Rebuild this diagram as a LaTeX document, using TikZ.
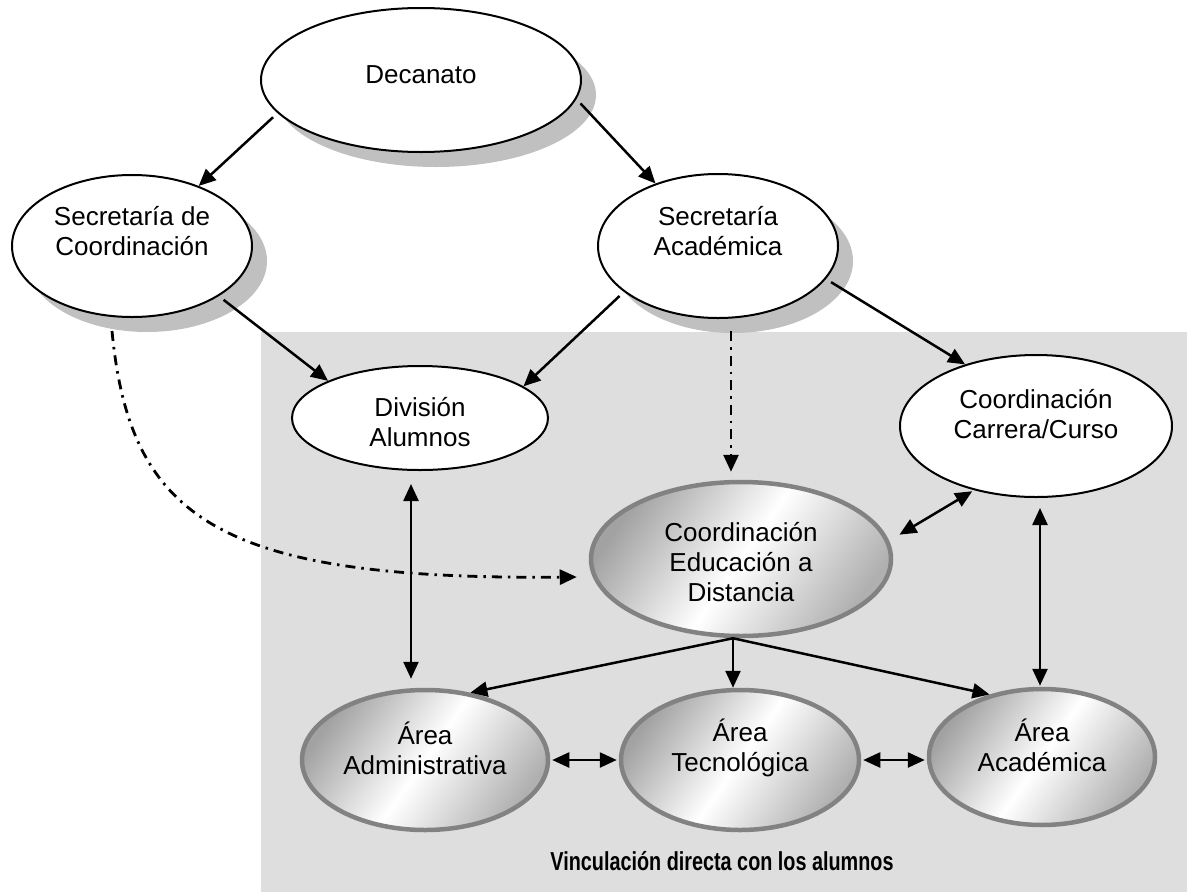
\documentclass[tikz,border=0pt]{standalone}
\usepackage{fontspec}
\setmainfont{Liberation Sans}
\usetikzlibrary{arrows.meta,shapes.geometric,shadows}
\definecolor{bg}{HTML}{DEDEDE}
\definecolor{shadowc}{HTML}{C0C0C0}
\definecolor{rimc}{HTML}{828282}
\definecolor{shdc}{HTML}{A2A2A2}
\begin{document}
\begin{tikzpicture}[x=1pt,y=-1pt, font=\fontsize{26}{30}\selectfont,
  base/.style={ellipse, inner sep=0pt},
  plainell/.style={base, draw=black, line width=2pt, fill=white},
  shadowell/.style={plainell, drop shadow={shadow xshift=15pt, shadow yshift=-15pt, fill=shadowc, opacity=1}},
  shadeell/.style={base, draw=rimc, line width=4.5pt, top color=shdc, bottom color=shdc!85, middle color=white, shading angle=55},
  txt/.style={align=center, inner sep=0pt},
  arr/.style={line width=2.5pt, -{Triangle[length=17pt,width=15pt]}},
  darr/.style={line width=2.5pt, {Triangle[length=17pt,width=15pt]}-{Triangle[length=17pt,width=15pt]}},
  dd/.style={arr, line width=2.8pt, dash pattern=on 10pt off 6pt on 2.5pt off 6pt}]
\useasboundingbox (0,0) rectangle (1187,892);
\fill[bg] (261,332) rectangle (1187,892);

% upper nodes with shadow
\node[shadowell, minimum width=320pt, minimum height=144pt] (dec) at (421,80) {};
\node[txt] (decT) at (421,75) {Decanato};
\node[shadowell, minimum width=240pt, minimum height=142pt] (sc) at (132,246) {};
\node[txt] (scT) at (132,231) {Secretaría de\\Coordinación};
\node[shadowell, minimum width=240pt, minimum height=144pt] (sa) at (718,246) {};
\node[txt] (saT) at (718,231) {Secretaría\\Académica};

% plain nodes
\node[plainell, minimum width=256pt, minimum height=104pt] (div) at (420,418) {};
\node[txt] (divT) at (420,422) {División\\Alumnos};
\node[plainell, minimum width=272pt, minimum height=142pt] (cc) at (1036,426) {};
\node[txt] (ccT) at (1036,414) {Coordinación\\Carrera/Curso};

% shaded nodes
\node[shadeell, minimum width=300pt, minimum height=154pt] (ced) at (741,559) {};
\node[txt] (cedT) at (741,562) {Coordinación\\Educación a\\Distancia};
\node[shadeell, minimum width=246pt, minimum height=140pt] (adm) at (425,760) {};
\node[txt] (admT) at (425,748) {Área\\Administrativa};
\node[shadeell, minimum width=238pt, minimum height=140pt] (tec) at (740,760) {};
\node[txt] (tecT) at (740,748) {Área\\Tecnológica};
\node[shadeell, minimum width=226pt, minimum height=136pt] (aca) at (1042,757) {};
\node[txt] (acaT) at (1042,745) {Área\\Académica};

\node (vinc) at (722,861) {\fontsize{26}{30}\selectfont\resizebox{343pt}{\height}{\textbf{Vinculación directa con los alumnos}}};

% connectors
\draw[arr, shorten <=6pt] (dec.193) -- (sc.42);
\draw[arr, shorten <=6pt] (dec.353) -- (sa.135);
\draw[arr, shorten <=6pt] (sc.330) -- (div.158);
\draw[arr, shorten <=6pt] (sa.206) -- (div.17);
\draw[arr, shorten <=6pt] (sa.343) -- (cc.139);
\draw[dd, shorten <=12pt, shorten >=8pt] ([xshift=13pt]sa.south) -- ([xshift=-10pt]ced.north);
\draw[dd] ([xshift=-20pt,yshift=-13pt]sc.south) .. controls (130,520) and (220,580) .. ([xshift=-12pt,yshift=-18pt]ced.west);
\draw[darr, shorten <=2pt, shorten >=12pt] (cc.226) -- (ced.7);
\draw[darr, shorten <=13pt, shorten >=9pt] ([xshift=-9pt]div.south) -- ([xshift=-14pt]adm.north);
\draw[darr, shorten <=10pt, shorten >=1pt] ([xshift=4pt]cc.south) -- ([xshift=-2pt]aca.north);
\draw[arr] ([xshift=-8pt]ced.south) -- (adm.56);
\draw[arr] ([xshift=-8pt]ced.south) -- ([xshift=-7pt]tec.north);
\draw[arr] ([xshift=-8pt]ced.south) -- (aca.130);
\draw[darr, shorten <=2pt, shorten >=2pt] (adm.east) -- (tec.west);
\draw[darr, shorten <=2pt, shorten >=2pt] (tec.east) -- (tec.east -| aca.west);
\end{tikzpicture}
\end{document}
